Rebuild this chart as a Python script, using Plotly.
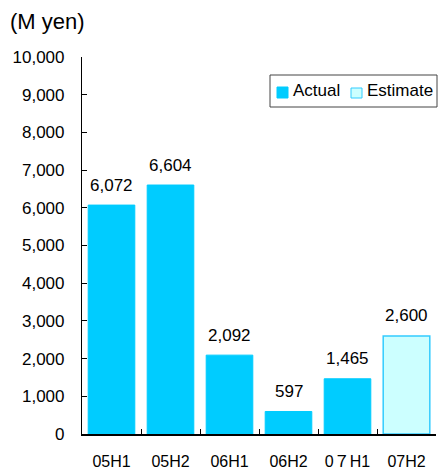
import plotly.graph_objects as go

categories = ["05H1", "05H2", "06H1", "06H2", "0７H1", "07H2"]
actual_values = [6072, 6604, 2092, 597, 1465, None]
estimate_values = [None, None, None, None, None, 2600]
y_ticks = list(range(0, 10001, 1000))

ACTUAL_FILL = "#00CCFF"
EST_FILL = "#CCFFFF"
EST_LINE = "#33CCFF"
FONT = "Liberation Sans, Arial, Noto Sans CJK JP, sans-serif"

fig = go.Figure()
fig.add_trace(go.Bar(
    x=categories, y=actual_values, name="Actual",
    marker=dict(color=ACTUAL_FILL, line=dict(color=ACTUAL_FILL, width=1)),
))
fig.add_trace(go.Bar(
    x=categories, y=estimate_values, name="Estimate",
    marker=dict(color=EST_FILL, line=dict(color=EST_LINE, width=1.5)),
))

annotations = []
for cat, a, e in zip(categories, actual_values, estimate_values):
    v = a if a is not None else e
    annotations.append(dict(
        x=cat, y=v, xref="x", yref="y", text=f"{v:,}", showarrow=False,
        yanchor="middle", yshift=20, font=dict(size=17, color="#000000"),
    ))

# plot area: x 82..436 (354px), y 57..434 (377px)
def px(xp):
    return (xp - 82) / 354
def py(yp):
    return (434 - yp) / 377

annotations.append(dict(
    text="(M yen)", x=px(8), y=py(21), xref="paper", yref="paper", showarrow=False,
    font=dict(size=22, color="#000000"), xanchor="left", yanchor="middle",
))
annotations.append(dict(
    text="Actual", x=px(291), y=py(91), xref="paper", yref="paper", showarrow=False,
    font=dict(size=17, color="#000000"), xanchor="left", yanchor="middle",
))
annotations.append(dict(
    text="Estimate", x=px(365), y=py(91), xref="paper", yref="paper", showarrow=False,
    font=dict(size=17, color="#000000"), xanchor="left", yanchor="middle",
))

shapes = [
    dict(type="rect", xref="paper", yref="paper", x0=px(270), x1=px(437), y0=py(107), y1=py(75),
         line=dict(color="#444444", width=1), fillcolor="rgba(0,0,0,0)"),
    dict(type="rect", xref="paper", yref="paper", x0=px(277), x1=px(288), y0=py(98), y1=py(87),
         line=dict(color=ACTUAL_FILL, width=1), fillcolor=ACTUAL_FILL),
    dict(type="rect", xref="paper", yref="paper", x0=px(351), x1=px(362), y0=py(98), y1=py(88),
         line=dict(color=EST_LINE, width=1), fillcolor=EST_FILL),
]

fig.update_layout(
    width=440, height=470,
    margin=dict(l=82, r=4, t=57, b=36),
    paper_bgcolor="white", plot_bgcolor="white",
    barmode="overlay", bargap=0.21,
    font=dict(family=FONT, size=16, color="#000000"),
    showlegend=False,
    annotations=annotations,
    shapes=shapes,
)

fig.update_xaxes(
    type="category", categoryorder="array", categoryarray=categories,
    showline=True, linecolor="#000000", linewidth=1.5,
    ticks="inside", tickson="boundaries", ticklen=5, tickcolor="#000000",
    showgrid=False, tickfont=dict(size=16), ticklabelstandoff=12,
    automargin=False,
)
fig.update_yaxes(
    range=[0, 10000], tickvals=y_ticks, tickformat=",d",
    showline=True, linecolor="#000000", linewidth=1.2,
    ticks="inside", ticklen=5, tickcolor="#000000",
    showgrid=False, zeroline=False, tickfont=dict(size=17),
    ticklabelstandoff=13, automargin=False,
)

fig.write_html("out.html")
